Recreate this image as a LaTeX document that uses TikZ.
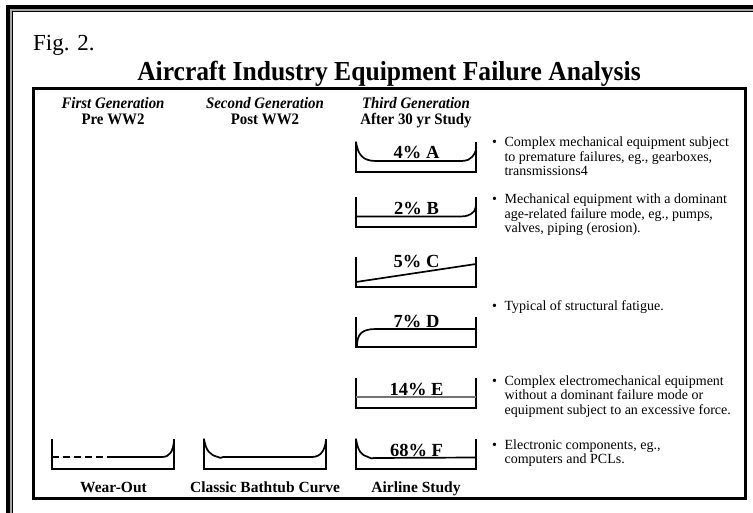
\documentclass[tikz,border=0pt]{standalone}
\usepackage{fontspec}
\setmainfont{Liberation Serif}
\newfontfamily\condfont[FakeStretch=0.93]{Liberation Serif}
\begin{document}
\begin{tikzpicture}[x=1pt,y=-1pt,
  axis/.style={line width=2.5pt, line join=miter},
  crv/.style={line width=1.7pt, line cap=round, line join=round},
  lbl/.style={anchor=base, inner sep=0pt},
  boxlbl/.style={lbl, font=\fontsize{18.5}{18.5}\selectfont\bfseries},
  head/.style={lbl, font=\fontsize{16}{16}\selectfont\condfont\bfseries},
  foot/.style={lbl, font=\fontsize{15.5}{15.5}\selectfont\bfseries},
  note/.style={anchor=base west, inner sep=0pt, font=\fontsize{14}{14.5}\selectfont},
]
\useasboundingbox (0,0) rectangle (753,513);
% outer double frame (cut by the page)
\draw[line width=4pt] (8,530) -- (8,7) -- (770,7);
\draw[line width=1.2pt, black!35] (11,530) -- (11,10) -- (770,10);
\draw[line width=1.2pt] (12.6,530) -- (12.6,11.6) -- (770,11.6);
% inner frame
\draw[line width=3pt] (33,89) rectangle (745,498);

\node[anchor=base west, inner sep=0pt, font=\fontsize{23}{23}\selectfont] (fig) at (33,51) {Fig. 2.};
\node[lbl, font=\fontsize{27.5}{27.5}\selectfont\condfont\bfseries] (title) at (389,81) {Aircraft Industry Equipment Failure Analysis};

% headers
\node[head] (h1) at (113,109) {\itshape First Generation};
\node[head] (h1b) at (113,125) {Pre WW2};
\node[head] (h2) at (265,109) {\itshape Second Generation};
\node[head] (h2b) at (265,125) {Post WW2};
\node[head] (h3) at (416,109) {\itshape Third Generation};
\node[head] (h3b) at (416,125) {After 30 yr Study};

% column 1 : wear-out
\begin{scope}[shift={(52,439)}]
  \draw[axis] (0,0) -- (0,30) -- (122,30) -- (122,0);
  \draw[crv, dash pattern=on 7pt off 4pt, line cap=butt] (0,18) -- (56,18);
  \draw[crv] (56,18) -- (110,18) .. controls (118,18) and (121,12) .. (122,2);
\end{scope}
% column 2 : bathtub
\begin{scope}[shift={(204,439)}]
  \draw[axis] (0,0) -- (0,30) -- (122,30) -- (122,0);
  \draw[crv] (0,0) .. controls (2,12) and (6,16) .. (14,18) .. controls (16,19) and (17,19.5) .. (19,18) -- (108,18) .. controls (117,18) and (121,11) .. (122,1);
\end{scope}
% column 3
\begin{scope}[shift={(356,142)}]
  \draw[axis] (0,0) -- (0,30) -- (120,30) -- (120,0);
  \draw[crv] (0,0) .. controls (2,13) and (7,19) .. (20,19) -- (104,19) .. controls (112,19) and (114,17) .. (116,15) .. controls (118,13) and (119,11) .. (120,8);
\end{scope}
\node[boxlbl] (a) at (416.5,159) {4\% A};
\begin{scope}[shift={(356,197)}]
  \draw[axis] (0,0) -- (0,30) -- (120,30) -- (120,0);
  \draw[crv] (0,19.5) -- (104,19.5) .. controls (111,19.5) and (113,18) .. (115,17) .. controls (118,16) and (119,13) .. (120,9);
\end{scope}
\node[boxlbl] (b) at (416.5,214.5) {2\% B};
\begin{scope}[shift={(356,257)}]
  \draw[axis] (0,0) -- (0,30) -- (120,30) -- (120,0);
  \draw[crv] (0,25) -- (120,7);
\end{scope}
\node[boxlbl] (c) at (416.5,268) {5\% C};
\begin{scope}[shift={(356,317)}]
  \draw[axis] (0,0) -- (0,30) -- (120,30) -- (120,0);
  \draw[crv] (1,29) .. controls (1,17) and (6,12) .. (20,12) -- (120,12);
\end{scope}
\node[boxlbl] (d) at (416.5,327.5) {7\% D};
\begin{scope}[shift={(356,378)}]
  \draw[axis] (0,0) -- (0,30) -- (120,30) -- (120,0);
  \draw[line width=1.3pt, black!55] (0,19) -- (120,19);
\end{scope}
\node[boxlbl] (e) at (416.5,395) {14\% E};
\begin{scope}[shift={(356,439)}]
  \draw[axis] (0,0) -- (0,30) -- (120,30) -- (120,0);
  \draw[crv] (0,0) .. controls (2,12) and (5,16) .. (12,18) .. controls (15,19) and (16,20.5) .. (18,19) -- (120,18.5);
\end{scope}
\node[boxlbl] (f) at (416.5,456) {68\% F};

% footers
\node[foot] (w) at (113.5,492) {Wear-Out};
\node[foot] (cb) at (265,492) {Classic Bathtub Curve};
\node[foot] (as) at (416,492) {Airline Study};

% notes
\node[note] (na) at (492,147) {\begin{tabular}[t]{@{}l@{\hspace{7.5pt}}l@{}}\textbullet & Complex mechanical equipment subject\\ & to premature failures, eg., gearboxes,\\ & transmissions4\end{tabular}};
\node[note] (nb) at (492,204) {\begin{tabular}[t]{@{}l@{\hspace{7.5pt}}l@{}}\textbullet & Mechanical equipment with a dominant\\ & age-related failure mode, eg., pumps,\\ & valves, piping (erosion).\end{tabular}};
\node[note] (nd) at (492,311) {\begin{tabular}[t]{@{}l@{\hspace{7.5pt}}l@{}}\textbullet & Typical of structural fatigue.\end{tabular}};
\node[note] (ne) at (492,385) {\begin{tabular}[t]{@{}l@{\hspace{7.5pt}}l@{}}\textbullet & Complex electromechanical equipment\\ & without a dominant failure mode or\\ & equipment subject to an excessive force.\end{tabular}};
\node[note] (nf) at (492,449) {\begin{tabular}[t]{@{}l@{\hspace{7.5pt}}l@{}}\textbullet & Electronic components, eg.,\\ & computers and PCLs.\end{tabular}};
\end{tikzpicture}
\end{document}
